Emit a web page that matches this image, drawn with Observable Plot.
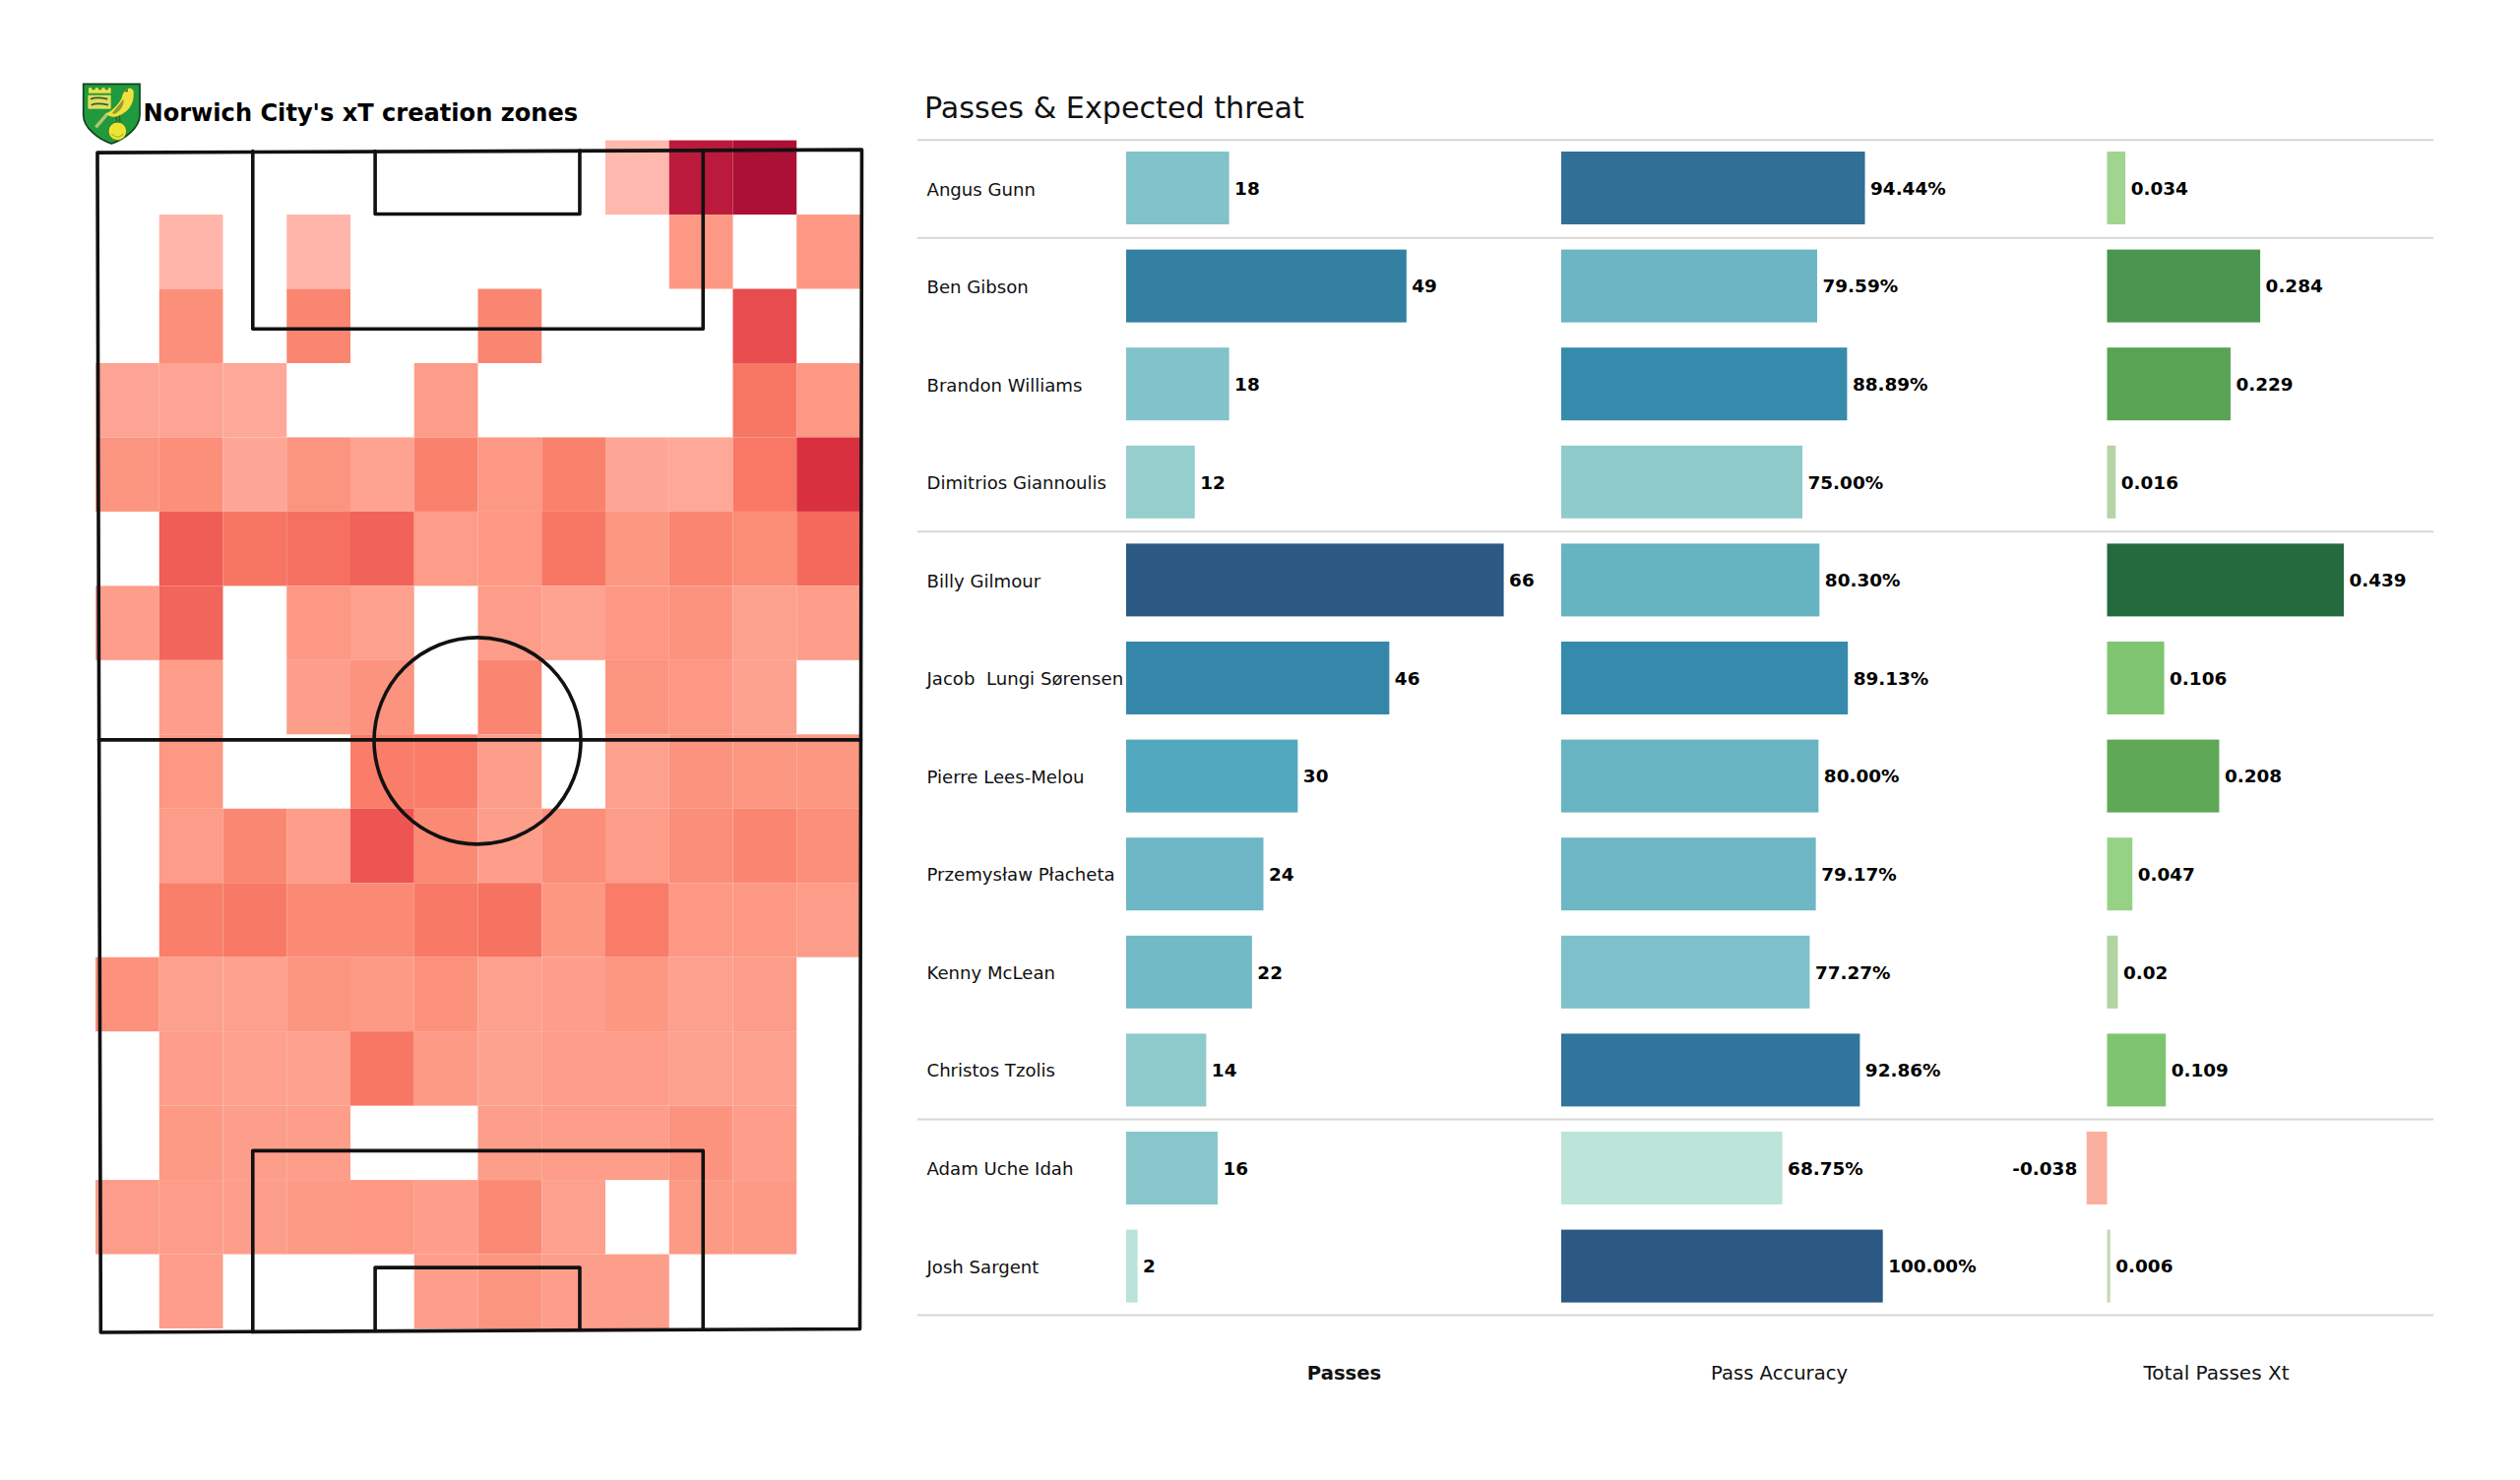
<!DOCTYPE html>
<html><head><meta charset="utf-8">
<script src="https://cdn.jsdelivr.net/npm/d3@7"></script>
<script src="https://cdn.jsdelivr.net/npm/@observablehq/plot@0.6"></script>
<style>
html,body{margin:0;padding:0;background:#fff}
#page{position:relative;width:2560px;height:1504px;overflow:hidden;font-family:"DejaVu Sans",sans-serif}
#page>div{position:absolute}
#page svg{display:block;overflow:visible;background:transparent}
</style></head><body><div id="page"></div>
<script>
const players=["Angus Gunn","Ben Gibson","Brandon Williams","Dimitrios Giannoulis","Billy Gilmour","Jacob  Lungi Sørensen","Pierre Lees-Melou","Przemysław Płacheta","Kenny McLean","Christos Tzolis","Adam Uche Idah","Josh Sargent"];
const passes=[18,49,18,12,66,46,30,24,22,14,16,2];
const accuracy=[94.44,79.59,88.89,75,80.3,89.13,80,79.17,77.27,92.86,68.75,100];
const accuracyLabels=["94.44%","79.59%","88.89%","75.00%","80.30%","89.13%","80.00%","79.17%","77.27%","92.86%","68.75%","100.00%"];
const xt=[0.034,0.284,0.229,0.016,0.439,0.106,0.208,0.047,0.02,0.109,-0.038,0.006];
const separators=[0,1,4,10,12];
const heat=[
[null,null,null,null,null,null,null,null,0,90,100,null],
[null,2,null,2,null,null,null,null,null,22,null,22],
[null,27,null,33,null,null,33,null,null,null,62,null],
[13,13,10,null,null,20,null,null,null,null,42,22],
[24,27,12,24,15,35,22,35,12,10,41,75],
[null,55,43,46,53,20,22,42,23,33,29,50],
[18,52,null,22,17,null,20,15,22,25,16,19],
[null,19,null,18,25,null,33,null,24,22,16,null],
[null,22,null,null,38,38,18,null,17,25,23,23],
[null,20,32,20,58,30,18,28,20,28,33,27],
[null,37,40,30,30,40,45,23,39,22,22,20],
[26,17,17,24,21,26,17,18,23,17,20,null],
[null,19,17,17,42,21,16,20,20,16,17,null],
[null,21,18,19,null,null,18,19,19,25,19,null],
[20,20,18,21,22,18,30,17,null,21,21,null],
[null,19,null,null,null,19,24,18,18,null,null,null]];
const heatLevels=[0,10,20,30,40,50,60,75,90,100];
const heatColors=["#ffb8ad","#fea899","#fd9c88","#fb8a74","#f87a66","#f36a5c","#ec5050","#d8303f","#bc1a3c","#ac1035"];
const passLevels=[2,12,18,24,30,46,66];
const passColors=["#b9e3d9","#96cecd","#82c2ca","#6cb6c5","#52a9bf","#3487a9","#2c5984"];
const accLevels=[68.75,75,77.27,79.17,80,88.89,92.86,100];
const accColors=["#bce4d9","#8fcbcb","#7ec1ca","#6eb7c5","#68b4c3","#368bac","#32759c","#2c5984"];
const xtLevels=[-0.038,-0.001,0.006,0.016,0.034,0.047,0.106,0.208,0.284,0.439];
const xtColors=["#fbaf9f","#fbaf9f","#c8d8b8","#b5d4a8","#a0d48f","#96d285","#80c672","#5fa856","#4a9650","#246a3f"];
const pitchOuterX=[0.15,80.1,79.9,0.5,0.15], pitchOuterY=[1.2,0.9,120,120.35,1.2];
const boxTopX=[16.4,16.4,63.5,63.5], boxTopY=[1.05,19,19,0.95];
const sixTopX=[29.2,29.2,50.6,50.6], sixTopY=[1.05,7.4,7.4,1];
const boxBotX=[16.4,16.4,63.5,63.5], boxBotY=[120.3,102,102,120.05];
const sixBotX=[29.2,29.2,50.6,50.6], sixBotY=[120.2,113.8,113.8,120.1];
const halfwayX=[0.3,80], halfwayY=[60.5,60.5];
const centreSpot=[{x:39.9,y:60.6}];
const ink="#111", bold=700;
const page=document.getElementById("page");
function place(node,left,top){const d=document.createElement("div");d.style.left=left+"px";d.style.top=top+"px";d.appendChild(node);page.appendChild(d);return d;}
const zip=(xs,ys)=>xs.map((x,i)=>({x,y:ys[i]}));

// crest
const crest=`<svg xmlns="http://www.w3.org/2000/svg" viewBox="0 0 210 216" width="70" height="72">
<path d="M14 16H186V110C186 150 140 185 100 198C60 185 14 150 14 110Z" fill="#1f9a3e" stroke="#14401f" stroke-width="5"/>
<path d="M30 44V28H40V34H50V28H60V34H70V28H80V34H90V28H98V44Z" fill="#efe04a"/>
<path d="M28 50H98V92H28Z" fill="#e4dc5e"/>
<path d="M36 62C50 56 70 58 88 62M38 80C52 74 72 76 90 80" fill="none" stroke="#26662f" stroke-width="5"/>
<path d="M52 148L88 106" stroke="#b9c36a" stroke-width="10" fill="none"/>
<path d="M150 30C160 26 170 34 167 46C170 74 150 108 112 116C100 118 90 114 84 106C104 96 122 78 132 56C134 46 140 34 150 30Z" fill="#efe23c"/>
<path d="M102 104C114 90 126 76 136 62C140 78 128 98 108 108Z" fill="#8d9a34"/>
<path d="M150 30L138 40L150 40Z" fill="#5c6a22"/>
<path d="M114 116L118 134M124 112L126 132" stroke="#3a5a20" stroke-width="4" fill="none"/>
<circle cx="118" cy="160" r="28" fill="#ece632" stroke="#3f7a2a" stroke-width="3"/>
<path d="M100 168C112 180 126 180 136 168" fill="none" stroke="#b7b92c" stroke-width="4"/>
</svg>`;
const img=document.createElement("img");img.src="data:image/svg+xml,"+encodeURIComponent(crest);img.width=70;img.height=72;img.style.display="block";
place(img,80,80);

const pitch=Plot.plot({width:920,height:1504,marginLeft:97,marginRight:46,marginTop:142.6,marginBottom:154,
 x:{domain:[0,80],axis:null},y:{domain:[0,120],axis:null,reverse:true},
 color:{type:"linear",domain:heatLevels,range:heatColors},
 marks:[
  Plot.rect(heat.flatMap((r,j)=>r.map((v,i)=>({i,j,v}))).filter(d=>d.v!=null),{x1:d=>d.i*80/12,x2:d=>(d.i+1)*80/12,y1:d=>d.j*7.5,y2:d=>(d.j+1)*7.5,fill:"v",inset:0}),
  ...[[pitchOuterX,pitchOuterY],[boxTopX,boxTopY],[sixTopX,sixTopY],[boxBotX,boxBotY],[sixBotX,sixBotY],[halfwayX,halfwayY]].map(([a,b])=>Plot.line(zip(a,b),{x:"x",y:"y",stroke:ink,strokeWidth:3.6,curve:"linear"})),
  Plot.dot(centreSpot,{x:"x",y:"y",r:105,stroke:ink,strokeWidth:3.6,fill:"none"}),
  Plot.text(["Norwich City's xT creation zones"],{frameAnchor:"top-left",dx:48,dy:-28,text:d=>d,fontSize:24.1,fontWeight:bold,fill:"#000",lineAnchor:"middle",fontFamily:"DejaVu Sans"})
 ]});
place(pitch,0,0);

const table=Plot.plot({width:1540,height:1504,marginLeft:0,marginRight:0,marginTop:141.7,marginBottom:168,
 x:{domain:[0,1540],range:[0,1540],axis:null},y:{domain:[0,12],axis:null,reverse:true},
 marks:[
  Plot.ruleY(separators,{stroke:"#d6d6d6",strokeWidth:2}),
  Plot.text(players,{x:9,y:(d,i)=>i+0.5,dy:1,text:d=>d,textAnchor:"start",fontSize:18.1,fill:"#111",fontFamily:"DejaVu Sans"}),
  Plot.text(["Passes & Expected threat"],{x:6.5,y:-0.32,text:d=>d,textAnchor:"start",fontSize:30.2,fill:"#111",fontFamily:"DejaVu Sans"})
 ]});
place(table,932,0);

function barPanel(left,values,labels,xOpt,levels,colors,header,headerWeight){
 const rows=players.map((name,i)=>({name,v:values[i],label:labels[i]}));
 const labelStyle={x:"v",y:"name",text:"label",dy:0.5,fontSize:18.4,fontWeight:bold,fill:"#000",fontFamily:"DejaVu Sans"};
 const plot=Plot.plot({width:442,height:1504,marginLeft:0,marginRight:0,marginTop:128.4,marginBottom:154.8,
  x:{...xOpt,axis:null},y:{domain:players,padding:0.257,round:false,axis:null},
  color:{type:"linear",domain:levels,range:colors},
  marks:[
   Plot.barX(rows,{x:"v",y:"name",fill:"v"}),
   Plot.text(rows.filter(d=>d.v>=0),{...labelStyle,textAnchor:"start",dx:5}),
   Plot.text(rows.filter(d=>d.v<0),{...labelStyle,textAnchor:"end",dx:-10}),
   Plot.text([header],{frameAnchor:"bottom",dy:52,text:d=>d,fontSize:header==="Total Passes Xt"?20:19.6,fontWeight:headerWeight,fill:"#111",fontFamily:"DejaVu Sans"})
  ]});
 place(plot,left,0);
}
barPanel(1144,passes,passes.map(String),{domain:[0,66],range:[0,383.6]},passLevels,passColors,"Passes",bold);
barPanel(1586,accuracy,accuracyLabels,{domain:[0,100],range:[0,326.7]},accLevels,accColors,"Pass Accuracy",400);
barPanel(2030,xt,xt.map(String),{domain:[0,0.439],range:[110.5,351]},xtLevels,xtColors,"Total Passes Xt",400);
</script></body></html>
